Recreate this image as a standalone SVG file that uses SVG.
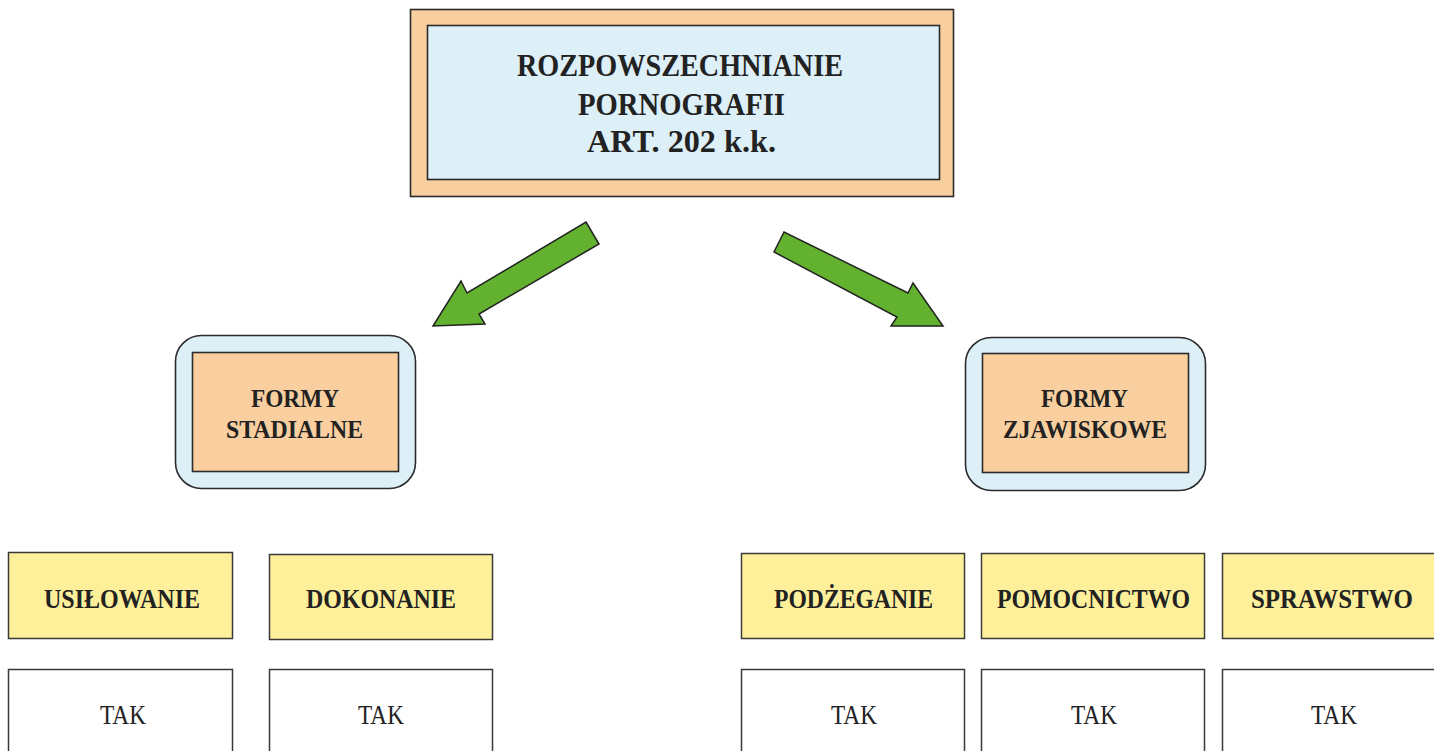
<svg xmlns="http://www.w3.org/2000/svg" width="1434" height="751" viewBox="0 0 1434 751">
<style>
.bg{fill:#ffffff}
.peach{fill:#F9CF9F;stroke:#2b2b2b;stroke-width:1.6}
.blue{fill:#DDEFF7;stroke:#2b2b2b;stroke-width:1.6}
.yellow{fill:#FEF09A;stroke:#3a3a3a;stroke-width:1.5}
.white{fill:#ffffff;stroke:#3a3a3a;stroke-width:1.5}
.arrow{fill:#62B22F;stroke:#222;stroke-width:1.5;stroke-linejoin:miter}
.t{font-family:"Liberation Serif","Times New Roman",serif;fill:#222;text-anchor:middle}
.b{font-weight:bold}
.h1{font-size:32px}
.h2{font-size:25px}
.h3{font-size:27px}
.r{font-size:27px}
</style>
<rect class="bg" x="0" y="0" width="1434" height="751"/>
<g id="title">
  <rect class="peach" x="410.5" y="9.5" width="543" height="187"/>
  <rect class="blue" x="427.5" y="25.5" width="512" height="154"/>
  <text class="t b h1" x="680" y="76" textLength="326" lengthAdjust="spacingAndGlyphs">ROZPOWSZECHNIANIE</text>
  <text class="t b h1" x="681.5" y="115" textLength="207" lengthAdjust="spacingAndGlyphs">PORNOGRAFII</text>
  <text class="t b h1" x="681.5" y="152" textLength="189" lengthAdjust="spacingAndGlyphs">ART. 202 k.k.</text>
</g>
<g id="connectors">
  <polygon class="arrow" points="586,222 599,244 479,314 485,324 433,326 461,281 467,293"/>
  <polygon class="arrow" points="784,232 774,252 897,317 891,326 943,326 913,283 908,293"/>
</g>
<g id="formy-stadialne">
  <rect class="blue" x="175.5" y="335.5" width="240" height="153" rx="26"/>
  <rect class="peach" x="192.5" y="352.5" width="206" height="119"/>
  <text class="t b h2" x="295" y="407" textLength="88" lengthAdjust="spacingAndGlyphs">FORMY</text>
  <text class="t b h2" x="294.5" y="438" textLength="137" lengthAdjust="spacingAndGlyphs">STADIALNE</text>
</g>
<g id="formy-zjawiskowe">
  <rect class="blue" x="965.5" y="337.5" width="240" height="153" rx="26"/>
  <rect class="peach" x="982.5" y="353.5" width="206" height="119"/>
  <text class="t b h2" x="1084.5" y="407" textLength="87" lengthAdjust="spacingAndGlyphs">FORMY</text>
  <text class="t b h2" x="1085" y="438" textLength="164" lengthAdjust="spacingAndGlyphs">ZJAWISKOWE</text>
</g>
<g id="usilowanie">
  <rect class="yellow" x="8.5" y="552.5" width="224" height="86"/>
  <text class="t b h3" x="122" y="608" textLength="156" lengthAdjust="spacingAndGlyphs">USIŁOWANIE</text>
</g>
<g id="dokonanie">
  <rect class="yellow" x="269.5" y="554.5" width="223" height="85"/>
  <text class="t b h3" x="381" y="608" textLength="150" lengthAdjust="spacingAndGlyphs">DOKONANIE</text>
</g>
<g id="podzeganie">
  <rect class="yellow" x="741.5" y="553.5" width="223" height="85"/>
  <text class="t b h3" x="853.5" y="608" textLength="159" lengthAdjust="spacingAndGlyphs">PODŻEGANIE</text>
</g>
<g id="pomocnictwo">
  <rect class="yellow" x="981.5" y="553.5" width="223" height="85"/>
  <text class="t b h3" x="1093.5" y="608" textLength="193" lengthAdjust="spacingAndGlyphs">POMOCNICTWO</text>
</g>
<g id="sprawstwo">
  <rect class="yellow" x="1222.5" y="553.5" width="223" height="85"/>
  <text class="t b h3" x="1332" y="608" textLength="162" lengthAdjust="spacingAndGlyphs">SPRAWSTWO</text>
</g>
<g id="tak-1">
  <rect class="white" x="8.5" y="669.5" width="224" height="100"/>
  <text class="t r" x="123" y="724" textLength="46" lengthAdjust="spacingAndGlyphs">TAK</text>
</g>
<g id="tak-2">
  <rect class="white" x="269.5" y="669.5" width="223" height="100"/>
  <text class="t r" x="381" y="724" textLength="46" lengthAdjust="spacingAndGlyphs">TAK</text>
</g>
<g id="tak-3">
  <rect class="white" x="741.5" y="669.5" width="223" height="100"/>
  <text class="t r" x="854" y="724" textLength="46" lengthAdjust="spacingAndGlyphs">TAK</text>
</g>
<g id="tak-4">
  <rect class="white" x="981.5" y="669.5" width="223" height="100"/>
  <text class="t r" x="1094" y="724" textLength="46" lengthAdjust="spacingAndGlyphs">TAK</text>
</g>
<g id="tak-5">
  <rect class="white" x="1222.5" y="669.5" width="223" height="100"/>
  <text class="t r" x="1334" y="724" textLength="46" lengthAdjust="spacingAndGlyphs">TAK</text>
</g>
</svg>
